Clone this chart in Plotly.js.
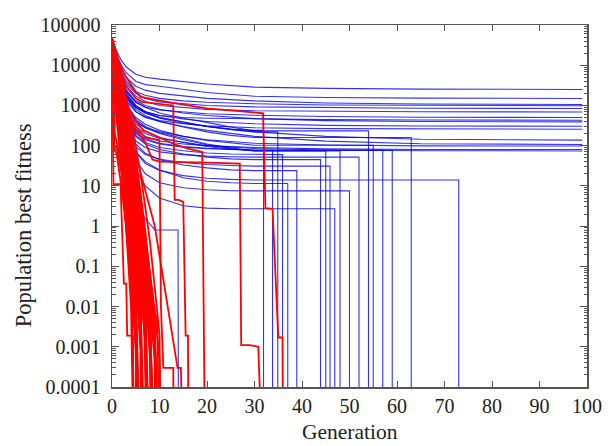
<!DOCTYPE html>
<html>
<head>
<meta charset="utf-8">
<script src="https://cdn.plot.ly/plotly-3.0.1.min.js"></script>
<style>html,body{margin:0;padding:0;background:#fff;}#chart{width:608px;height:446px;}</style>
</head>
<body>
<div id="chart"></div>
<script>
// ---- axis ticks ----
const genTicks = [0, 10, 20, 30, 40, 50, 60, 70, 80, 90, 100];
const fitTickVals = [1e-4, 1e-3, 1e-2, 1e-1, 1, 10, 100, 1000, 10000, 100000];
const fitTickText = ['0.0001', '0.001', '0.01', '0.1', '1', '10', '100', '1000', '10000', '100000'];
const minorDigits = [2, 3, 4, 5, 6, 7, 8, 9];

// value used for a run that reached zero fitness (below the axis)
const ZERO = 1e-6;

// ---- blue runs that never reach zero (sampled generations) ----
const blueFlatGens = [0, 1, 2, 3, 5, 7, 10, 15, 20, 30, 45, 65, 99];
const blueFlatRuns = [
  [42000, 22000, 13000, 9000, 6000, 5000, 4500, 3900, 3400, 2850, 2650, 2550, 2500],
  [38000, 18000, 10000, 6500, 4000, 3300, 3000, 2500, 2100, 1700, 1580, 1520, 1490],
  [40000, 16000, 8000, 5000, 3000, 2400, 2000, 1700, 1500, 1300, 1150, 1090, 1060],
  [35000, 14000, 7000, 4000, 2200, 1800, 1500, 1300, 1200, 1100, 1030, 1000, 980],
  [30000, 12000, 6000, 3500, 2000, 1500, 1230, 1100, 1000, 920, 880, 855, 840],
  [37000, 13000, 5500, 3000, 1700, 1250, 1000, 880, 800, 740, 710, 697, 690],
  [33000, 10000, 4500, 2500, 1200, 900, 770, 680, 620, 570, 530, 510, 500],
  [28000, 9000, 3800, 2000, 1000, 700, 560, 500, 480, 460, 445, 435, 430],
  [36000, 11000, 4000, 2200, 1300, 1000, 800, 650, 560, 470, 420, 400, 390],
  [31000, 8000, 3000, 1600, 900, 700, 560, 460, 400, 350, 320, 308, 305],
  [29000, 7000, 2600, 1300, 700, 520, 420, 350, 310, 280, 265, 259, 257],
  [34000, 9000, 3500, 1800, 900, 650, 500, 380, 300, 220, 170, 145, 137],
  [27000, 8000, 3000, 1500, 700, 500, 400, 300, 240, 170, 130, 112, 107],
  [32000, 7500, 2200, 900, 400, 280, 220, 170, 140, 115, 104, 99, 98],
  [26000, 5000, 1500, 600, 250, 170, 130, 110, 100, 90, 83, 80, 80],
  [30000, 6500, 2000, 700, 300, 200, 150, 120, 100, 85, 78, 75, 74]
];

// ---- blue runs that stall then reach zero ----
const blueDropGens = [0, 1, 2, 3, 5, 7, 10, 15, 20, 25, 30];
const blueDropRuns = [
  [33000, 9000, 3200, 1600, 900, 650, 480, 360, 300, 260, 240],
  [30000, 7000, 2000, 800, 350, 230, 160, 120, 95, 82, 77],
  [36000, 10000, 3500, 1800, 1000, 700, 500, 380, 300, 250, 220],
  [28000, 6000, 1500, 500, 180, 120, 90, 75, 66, 62, 60],
  [25000, 4000, 800, 220, 70, 40, 25, 16, 13, 12, 11.5],
  [27000, 5000, 1000, 320, 110, 65, 45, 33, 28, 25, 24],
  [29000, 6000, 1300, 450, 170, 110, 80, 62, 52, 47, 45],
  [31000, 7000, 2200, 900, 400, 280, 200, 140, 105, 85, 74],
  [26000, 4500, 900, 280, 95, 60, 46, 38, 34, 32, 31],
  [24000, 3000, 500, 100, 25, 10, 5, 3.2, 2.8, 2.7, 2.7],
  [33000, 8000, 2600, 1000, 450, 300, 210, 150, 110, 88, 74],
  [25000, 3500, 600, 160, 45, 20, 12, 9, 8, 7.6, 7.5],
  [28000, 5500, 1200, 380, 130, 90, 70, 60, 55, 53, 52],
  [35000, 11000, 4500, 2200, 1200, 900, 650, 480, 380, 290, 233],
  [32000, 8000, 2600, 1100, 500, 340, 240, 170, 135, 115, 102],
  [30000, 6500, 1800, 600, 220, 150, 115, 95, 86, 80, 77],
  [29000, 6000, 1600, 550, 200, 140, 110, 92, 84, 79, 77],
  [34000, 9000, 3400, 1600, 800, 560, 400, 290, 220, 180, 160],
  [26000, 4000, 800, 220, 70, 36, 24, 18, 15.5, 14.5, 14]
];
const blueDropAt = [31.9, 33.8, 34.9, 35.9, 37, 38.9, 43.9, 45, 45.9, 46.9, 48, 50, 52, 54, 55, 57, 59, 63, 73];

// a blue run that reached zero early: [generation, fitness]
const blueEarlyRun = [[0, 22000], [1, 2500], [2, 300], [3, 40], [5, 5], [7, 1.5], [8.4, 1], [9, 0.8], [13.9, 0.8], [14, ZERO]];

// ---- red runs: [generation, fitness] ----
const redFastRuns = [
  [[0,42000],[1,3000],[2,150],[3,5],[4,0.2],[5,0.004],[6,ZERO]],
  [[0,38000],[1,9000],[2,800],[3,40],[4,3],[5,0.1],[6,0.002],[7,ZERO]],
  [[0,30000],[1,2000],[2,60],[3,1],[4,0.01],[4.6,ZERO]],
  [[0,45000],[1,12000],[2,2500],[3,300],[4,20],[5,1.5],[6,0.05],[7,0.001],[7.6,ZERO]],
  [[0,25000],[1,500],[2,90],[3,6],[4,0.3],[5,0.0008],[5.3,ZERO]],
  [[0,35000],[1,6000],[2,1200],[3,200],[4,50],[5,8],[6,0.6],[7,0.03],[8,0.0005],[8.5,ZERO]],
  [[0,40000],[1,15000],[2,4000],[3,900],[4,150],[5,30],[6,4],[7,0.3],[8,0.02],[9,0.0006],[9.4,ZERO]],
  [[0,28000],[0.5,100],[1,90],[2,20],[3,1],[4,0.05],[5,0.0015],[5.5,ZERO]],
  [[0,33000],[1,4000],[2,700],[3,100],[4,15],[5,2],[6,0.2],[6.5,0.2],[7,0.008],[8,ZERO]],
  [[0,47000],[1,20000],[2,5000],[3,1500],[4,400],[5,100],[6,20],[7,3],[8,0.4],[9,0.03],[10,0.002],[10.3,ZERO]],
  [[0,22000],[1,1500],[2,300],[3,30],[4,2],[5,0.1],[6,0.004],[6.5,ZERO]],
  [[0,36000],[1,8000],[2,1800],[3,350],[4,80],[5,12],[6,1.5],[7,0.15],[8,0.008],[8.6,ZERO]],
  [[0,41000],[1,5000],[2,600],[3,80],[4,6],[5,0.5],[6,0.02],[6.8,ZERO]],
  [[0,30000],[1,10000],[2,3000],[3,600],[4,100],[5,14],[6,1],[7,0.06],[7.5,ZERO]],
  [[0,39000],[1,11000],[2,2000],[3,500],[4,60],[5,9],[6,0.9],[7,0.1],[8,0.012],[9,0.0004],[9.2,ZERO]],
  [[0,26000],[1,3500],[2,400],[3,25],[4,0.8],[5,0.01],[5.7,ZERO]],
  [[0,44000],[1,16000],[2,3500],[3,800],[4,130],[5,25],[6,3],[7,0.25],[8,0.03],[9,0.003],[9.8,ZERO]],
  [[0,32000],[1,7000],[2,1000],[3,120],[4,11],[5,0.8],[6,0.05],[7,0.0012],[7.3,ZERO]],
  [[0,37000],[0.6,200],[1,120],[2,35],[3,3],[4,0.12],[5,0.002],[5.4,ZERO]],
  [[0,29000],[1,6000],[2,1500],[3,250],[4,40],[5,5],[6,0.4],[7,0.015],[7.8,ZERO]],
  [[0,43000],[1,13000],[2,2800],[3,700],[4,120],[5,18],[6,2],[7,0.2],[8,0.01],[8.8,ZERO]],
  [[0,34000],[1,4500],[2,500],[3,50],[4,4],[5,0.2],[5.5,0.2],[6,0.003],[6.6,ZERO]],
  [[0,31000],[1,9500],[2,2200],[3,400],[4,70],[5,10],[6,1.2],[7,0.08],[8,0.004],[9,ZERO]],
  [[0,46000],[1,18000],[2,6000],[3,1300],[4,250],[5,50],[6,7],[7,0.8],[8,0.05],[9,0.004],[9.6,ZERO]],
  [[0,27000],[1,2500],[2,200],[3,12],[4,0.5],[5,0.02],[5.8,ZERO]],
  [[0,38000],[1,7500],[2,1300],[3,180],[4,25],[5,3],[6,0.25],[7,0.01],[7.7,ZERO]],
  [[0,24000],[1,1200],[2,100],[3,8],[4,0.4],[4.8,ZERO]],
  [[0,40000],[1,10000],[2,2500],[3,450],[4,90],[5,15],[6,2.5],[7,0.3],[8,0.03],[9,0.002],[10,ZERO]],
  [[0,35000],[1,5500],[2,900],[3,150],[4,18],[5,2],[6,0.15],[7,0.006],[7.4,ZERO]],
  [[0,42000],[0.5,1500],[1,700],[2,110],[3,15],[4,1.2],[5,0.06],[6,0.0008],[6.2,ZERO]],
  [[0,40000],[1,400],[2,30],[3,2],[4,0.05],[5,0.001],[5.2,ZERO]],
  [[0,36000],[1,2500],[2,250],[3,20],[4,1.5],[5,0.08],[6,0.003],[6.4,ZERO]],
  [[0,44000],[1,8000],[2,1100],[3,150],[4,22],[5,2.5],[6,0.3],[7,0.02],[8,0.0009],[8.3,ZERO]],
  [[0,33000],[1,3000],[2,350],[3,45],[4,5],[5,0.4],[6,0.03],[7,0.0015],[7.2,ZERO]],
  [[0,47000],[1,14000],[2,3200],[3,600],[4,110],[5,20],[6,3],[7,0.5],[8,0.06],[9,0.006],[9.5,0.006],[10,ZERO]],
  [[0,29000],[1,1800],[2,120],[3,10],[4,0.6],[5,0.03],[6,ZERO]],
  [[0,41000],[1,6500],[2,900],[3,130],[4,14],[5,1.4],[6,0.1],[7,0.004],[7.5,ZERO]],
  [[0,38000],[1,11000],[2,2600],[3,500],[4,90],[5,11],[6,1.3],[7,0.09],[8,0.006],[8.7,ZERO]],
  [[0,25000],[0.4,90],[1,60],[2,9],[3,0.9],[4,0.04],[5,0.0012],[5.6,ZERO]],
  [[0,43000],[1,9000],[2,1600],[3,260],[4,35],[5,4],[6,0.5],[7,0.05],[8,0.003],[9,ZERO]],
  [[0,35000],[1,4200],[2,650],[3,90],[4,12],[5,1],[6,0.07],[6.5,0.07],[7,0.002],[7.6,ZERO]],
  [[0,46000],[1,17000],[2,4500],[3,1000],[4,200],[5,35],[6,5],[7,0.6],[8,0.07],[9,0.008],[10,0.0005],[10.2,ZERO]],
  [[0,31000],[1,5000],[2,700],[3,60],[4,5],[5,0.3],[6,0.01],[6.9,ZERO]],
  [[0,39000],[1,12000],[2,2400],[3,380],[4,55],[5,7],[6,0.7],[7,0.05],[8,0.002],[8.4,ZERO]],
  [[0,42000],[1,7000],[2,1400],[3,220],[4,30],[5,4],[6,0.35],[7,0.025],[8,0.0015],[8.9,ZERO]]
];
const redSlowRuns = [
  [[0,40000],[1,15000],[3,5000],[5,2200],[6,1630],[13,1140],[20,850],[25,750],[31.8,640],[32.3,2.8],[33.8,2.7],[35,0.0017],[35.9,0.0017],[36,ZERO]],
  [[0,35000],[1,12000],[3,3000],[5,1500],[6.2,1230],[12.9,1000],[13.2,4.5],[14,4.5],[15,4],[15.5,0.0019],[16,0.0019],[16.1,ZERO]],
  [[0,30000],[1,9000],[2,2000],[3,600],[5,250],[7,120],[8.5,45],[10,40],[20,38],[26.9,36],[27.2,0.0011],[29,0.0011],[30.8,0.001],[31.7,ZERO]],
  [[0,40000],[1,10000],[2,3000],[4,600],[6.6,240],[10,160],[13,110],[16,85],[19,70],[19.6,ZERO]],
  [[0,30000],[1,8000],[2,2000],[3,700],[5,300],[7,160],[10,137],[10.3,0.01],[10.8,0.0003],[12.9,0.0003],[13,ZERO]],
  [[0,30000],[0.2,400],[0.3,11],[1.8,11],[2.5,0.037],[3,0.037],[3.2,0.0019],[4.4,0.0019],[4.5,ZERO]],
  [[0,36000],[1,7000],[2,1500],[3,300],[5,60],[7,8],[9,1],[13.8,0.0003],[14.5,0.0003],[15,ZERO]]
];

// ---- build traces ----
const BLUE = 'rgba(0,0,230,0.8)';
const RED = 'rgb(255,0,0)';
const traces = [];
function addTrace(xs, ys, color, width) {
  traces.push({x: xs, y: ys, type: 'scatter', mode: 'lines',
    line: {color: color, width: width}, hoverinfo: 'skip', showlegend: false});
}
blueFlatRuns.forEach(v => addTrace(blueFlatGens, v, BLUE, 1.1));
blueDropRuns.forEach((v, i) => {
  const g = blueDropAt[i];
  addTrace(blueDropGens.concat([g, g]), v.concat([v[v.length - 1], ZERO]), BLUE, 1.1);
});
addTrace(blueEarlyRun.map(p => p[0]), blueEarlyRun.map(p => p[1]), BLUE, 1.1);
redFastRuns.concat(redSlowRuns).forEach(r => addTrace(r.map(p => p[0]), r.map(p => p[1]), RED, 1.8));

// minor log ticks (2..9 in each decade)
const minorTickVals = [];
fitTickVals.slice(0, -1).forEach(d => minorDigits.forEach(m => minorTickVals.push(d * m)));

const FONT = 'Liberation Serif, Times New Roman, serif';
const AX = '#555';
const TXT = '#222';
const layout = {
  width: 608, height: 446,
  margin: {l: 112, r: 21, t: 25, b: 59},
  paper_bgcolor: '#fff', plot_bgcolor: '#fff',
  font: {family: FONT, size: 20, color: TXT},
  xaxis: {
    range: [0, 100], tickmode: 'array', tickvals: genTicks,
    ticks: 'inside', ticklen: 6, tickwidth: 1, tickcolor: AX,
    showline: true, linecolor: AX, linewidth: 1.5, mirror: 'ticks',
    showgrid: false, zeroline: false,
    tickfont: {family: FONT, size: 20, color: TXT}
  },
  yaxis: {
    type: 'log', range: [-4, 5], tickmode: 'array', tickvals: fitTickVals, ticktext: fitTickText,
    ticks: 'inside', ticklen: 7, tickwidth: 1, tickcolor: AX,
    minor: {tickmode: 'array', tickvals: minorTickVals, ticks: 'inside', ticklen: 3.5,
            tickwidth: 1, tickcolor: AX, showgrid: false},
    showline: true, linecolor: AX, linewidth: 1.5, mirror: 'ticks',
    showgrid: false, zeroline: false, ticklabelstandoff: 6,
    tickfont: {family: FONT, size: 20, color: TXT}
  },
  annotations: [
    {text: 'Generation', xref: 'paper', yref: 'paper', x: 0.5, y: -0.087,
     xanchor: 'center', yanchor: 'top', showarrow: false,
     font: {family: FONT, size: 21.5, color: TXT}},
    {text: 'Population best fitness', xref: 'paper', yref: 'paper', x: -0.187, y: 0.4475,
     xanchor: 'center', yanchor: 'middle', textangle: -90, showarrow: false,
     font: {family: FONT, size: 22.5, color: TXT}}
  ]
};
Plotly.newPlot('chart', traces, layout, {staticPlot: true, displayModeBar: false});
</script>
</body>
</html>
